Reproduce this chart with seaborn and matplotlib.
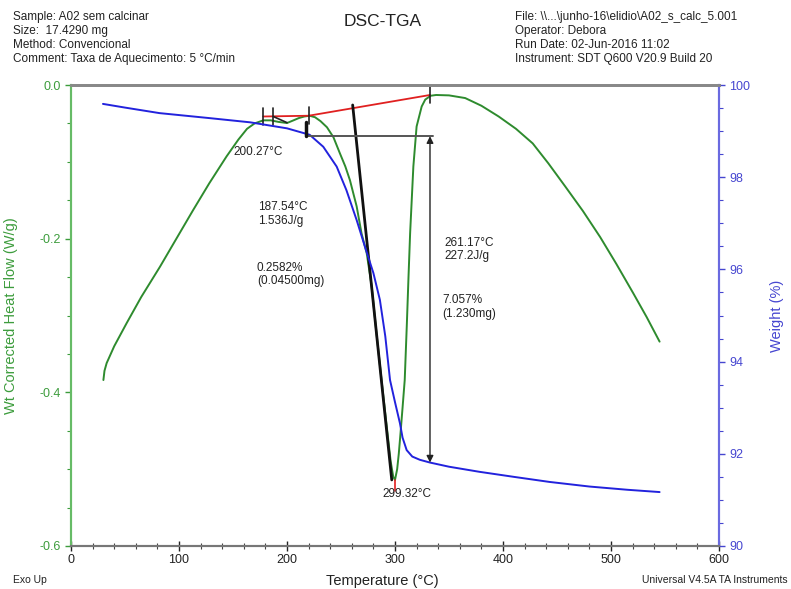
import matplotlib
matplotlib.use('Agg')
import matplotlib.pyplot as plt
from matplotlib.ticker import MultipleLocator
import seaborn as sns

# ─── Data ────────────────────────────────────────────────────────────────────
dsc_temp = [30, 31, 33, 40, 51.5, 65, 82.4, 98, 113, 128, 144, 155, 163, 170, 178,
            185, 192, 200, 206, 211, 216, 221, 226, 231, 237, 243, 249, 254, 258.3,
            264.5, 269, 273.8, 278.4, 283, 288, 292, 296, 298.4, 300, 302, 303.5,
            305, 307, 309, 311, 312.5, 314, 317, 320, 324.7, 328, 333, 338, 350,
            365, 380, 396, 412, 427.5, 442, 457.6, 474, 490, 505, 520.6, 533, 545]
dsc_heat_flow = [-0.384, -0.372, -0.362, -0.340, -0.310, -0.276, -0.2365, -0.199,
                 -0.163, -0.128, -0.093, -0.071, -0.057, -0.050, -0.046, -0.046,
                 -0.048, -0.0495, -0.046, -0.043, -0.041, -0.040, -0.042, -0.047,
                 -0.055, -0.068, -0.089, -0.106, -0.124, -0.158, -0.193, -0.219,
                 -0.262, -0.325, -0.390, -0.440, -0.490, -0.510, -0.514, -0.500,
                 -0.480, -0.455, -0.420, -0.384, -0.310, -0.250, -0.193, -0.106,
                 -0.054, -0.028, -0.019, -0.014, -0.013, -0.0135, -0.017, -0.027,
                 -0.041, -0.057, -0.076, -0.102, -0.132, -0.164, -0.198, -0.233,
                 -0.271, -0.302, -0.334]

tga_temp = [29.6, 50, 82, 129, 166, 200, 221, 233.6, 246, 255, 264.5, 272.2, 280,
            286, 291, 295.4, 300, 304.6, 307, 310.8, 316, 323, 332.4, 350, 378,
            410, 443, 480, 515, 545]
tga_weight = [99.59, 99.51, 99.39, 99.28, 99.19, 99.06, 98.92, 98.66, 98.23, 97.72,
              97.07, 96.49, 95.92, 95.34, 94.55, 93.60, 93.12, 92.66, 92.35, 92.08,
              91.94, 91.87, 91.81, 91.72, 91.61, 91.50, 91.39, 91.29, 91.22, 91.17]

# integration baselines (red) and onset tangent (black)
base1_temp, base1_hf = [178, 220], [-0.041, -0.040]
base2_temp, base2_hf = [220, 332.4], [-0.040, -0.013]
small_tan_temp, small_tan_hf = [187.3, 200], [-0.041, -0.049]
tangent_temp, tangent_hf = [260.8, 297.0], [-0.026, -0.514]
baseline_marks = [178, 187.3, 220, 332.4]
peak_temp, peak_hf = 299.6, -0.514

# weight-loss step
step_temp = [218, 335]
step_top, step_bottom = 98.89, 91.81
step_arrow_temp = 332.4

header_left = ['Sample: A02 sem calcinar', 'Size:  17.4290 mg',
               'Method: Convencional', 'Comment: Taxa de Aquecimento: 5 \u00b0C/min']
header_right = ['File: \\\\...\\junho-16\\elidio\\A02_s_calc_5.001', 'Operator: Debora',
                'Run Date: 02-Jun-2016 11:02', 'Instrument: SDT Q600 V20.9 Build 20']

notes = [  # (temperature, heat flow, text)
    (150, -0.087, '200.27\u00b0C'),
    (173, -0.168, '187.54\u00b0C\n1.536J/g'),
    (172, -0.247, '0.2582%\n(0.04500mg)'),
    (346, -0.214, '261.17\u00b0C\n227.2J/g'),
    (343.5, -0.289, '7.057%\n(1.230mg)'),
    (288, -0.532, '299.32\u00b0C'),
]

# ─── Style ───────────────────────────────────────────────────────────────────
sns.set_style('white')
plt.rcParams['font.family'] = ['Liberation Sans', 'DejaVu Sans']

GREEN = '#2e8b2e'
GREEN_TXT = '#3c9c3c'
BLUE = '#2222dd'
BLUE_TXT = '#4646d0'
RED = '#e02020'

fig = plt.figure(figsize=(7.91, 5.89), dpi=100)
ax = fig.add_axes([71 / 791, 1 - 546 / 589, 648 / 791, 461 / 589])
ax2 = ax.twinx()

sns.lineplot(x=dsc_temp, y=dsc_heat_flow, ax=ax, color=GREEN, linewidth=1.4,
             sort=False, estimator=None)
sns.lineplot(x=tga_temp, y=tga_weight, ax=ax2, color=BLUE, linewidth=1.4,
             sort=False, estimator=None)

# baselines / tangents
ax.plot(base1_temp, base1_hf, color=RED, lw=1.3)
ax.plot(base2_temp, base2_hf, color=RED, lw=1.3)
ax.plot(small_tan_temp, small_tan_hf, color='#222222', lw=1.2)
ax.plot(tangent_temp, tangent_hf, color='#111111', lw=2)
for t in baseline_marks:
    hf = base1_hf[0] if t < 220 else base2_hf[0] + (base2_hf[1] - base2_hf[0]) * (t - 220) / (332.4 - 220)
    ax.plot([t, t], [hf - 0.011, hf + 0.011], color='#222222', lw=1.2)
ax.plot([peak_temp, peak_temp], [peak_hf, peak_hf - 0.014], color=RED, lw=1.2)

ax2.plot(step_temp, [step_top, step_top], color='#555555', lw=1.4)
ax2.plot([218, 218], [step_top, 99.2], color='#111111', lw=2.5)
ax2.annotate('', xy=(step_arrow_temp, step_bottom), xytext=(step_arrow_temp, step_top),
             arrowprops=dict(arrowstyle='<|-|>', color='#222222', lw=1.0,
                             mutation_scale=10, shrinkA=0, shrinkB=0))

for t, hf, s in notes:
    ax.text(t, hf, s, fontsize=8.5, color='#222222', va='center', ha='left',
            linespacing=1.15)

# ─── Axes ────────────────────────────────────────────────────────────────────
ax.set_xlim(0, 600)
ax.set_ylim(-0.6, 0.0)
ax2.set_ylim(90, 100)
ax.xaxis.set_major_locator(MultipleLocator(100))
ax.xaxis.set_minor_locator(MultipleLocator(20))
ax.yaxis.set_major_locator(MultipleLocator(0.2))
ax.yaxis.set_minor_locator(MultipleLocator(0.05))
ax2.yaxis.set_major_locator(MultipleLocator(2))
ax2.yaxis.set_minor_locator(MultipleLocator(0.5))
ax.set_yticks([0.0, -0.2, -0.4, -0.6])
ax.set_yticklabels(['0.0', '-0.2', '-0.4', '-0.6'])

ax.tick_params(axis='x', which='major', direction='inout', length=7, width=1,
               labelsize=9, pad=2, bottom=True, colors='#222222')
ax.tick_params(axis='x', which='minor', direction='inout', length=4, width=0.8,
               bottom=True, colors='#444444')
ax.tick_params(axis='y', which='major', direction='out', length=4, width=1,
               labelsize=9, left=True, colors=GREEN_TXT)
ax.tick_params(axis='y', which='minor', direction='out', length=3, width=0.8,
               left=True, colors=GREEN_TXT)
ax2.tick_params(axis='y', which='major', direction='out', length=4, width=1,
                labelsize=9, right=True, colors=BLUE_TXT)
ax2.tick_params(axis='y', which='minor', direction='out', length=3, width=0.8,
                right=True, colors=BLUE_TXT)

for a in (ax, ax2):
    a.spines['top'].set_color('#888888')
    a.spines['top'].set_linewidth(2)
    a.spines['bottom'].set_color('#777777')
    a.spines['bottom'].set_linewidth(1.5)
    a.spines['left'].set_color('#66bb66')
    a.spines['left'].set_linewidth(1.5)
    a.spines['right'].set_color('#6a6ae0')
    a.spines['right'].set_linewidth(1.5)

ax.set_xlabel('Temperature (\u00b0C)', fontsize=10.5, color='#222222')
ax.xaxis.label.set_va('center')
ax.xaxis.set_label_coords(0.48, -0.076)
ax.set_ylabel('Wt Corrected Heat Flow (W/g)', fontsize=10.5, color=GREEN_TXT)
ax.yaxis.set_label_coords(-0.082, 0.5)
ax2.set_ylabel('Weight (%)', fontsize=10.5, color=BLUE_TXT)
ax2.yaxis.set_label_coords(1.079, 0.5)

# ─── Header / footer ─────────────────────────────────────────────────────────
for i, s in enumerate(header_left):
    fig.text(13 / 791, 1 - (17 + 14 * i) / 589, s, fontsize=8.5, va='center',
             color='#222222')
for i, s in enumerate(header_right):
    fig.text(515 / 791, 1 - (17 + 14 * i) / 589, s, fontsize=8.5, va='center',
             color='#222222')
fig.text(383 / 791, 1 - 22 / 589, 'DSC-TGA', fontsize=12.5, ha='center',
         va='center', color='#222222')
fig.text(13 / 791, 1 - 580 / 589, 'Exo Up', fontsize=7.5, va='center',
         color='#222222')
fig.text(788 / 791, 1 - 580 / 589, 'Universal V4.5A TA Instruments', fontsize=7.5,
         ha='right', va='center', color='#222222')

fig.savefig('out.png', dpi=100)
